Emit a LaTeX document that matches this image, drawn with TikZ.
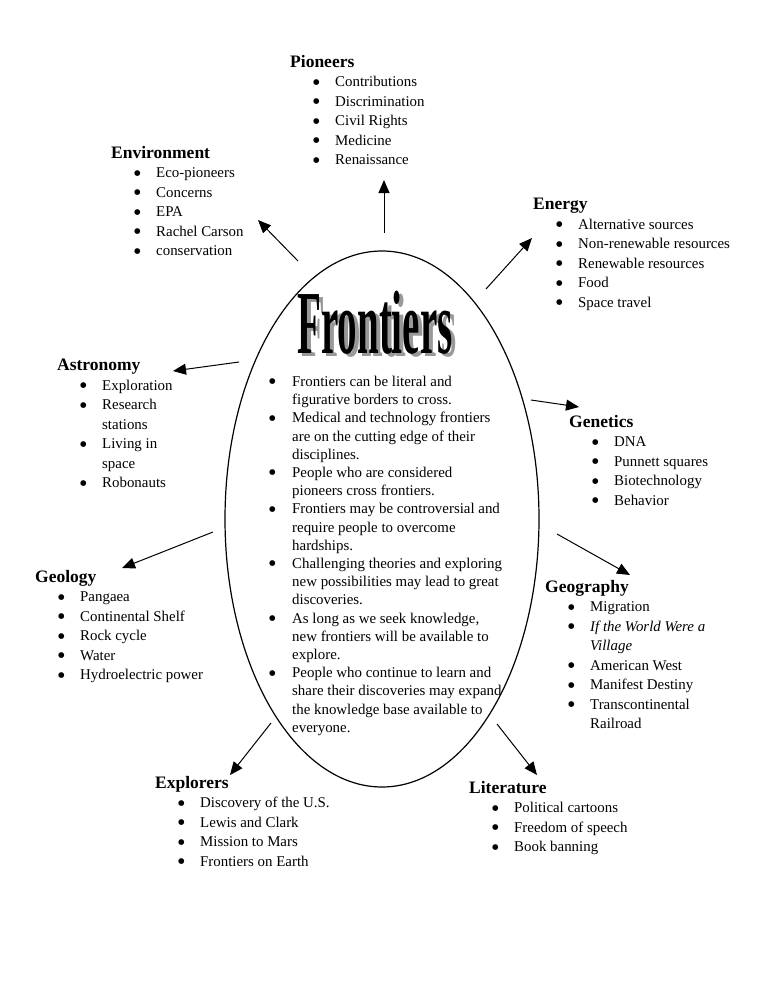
\documentclass[tikz,border=0pt]{standalone}
\usepackage{fontspec}
\setmainfont{Liberation Serif}
\newfontfamily\dotfont{DejaVu Sans}
\usetikzlibrary{shapes.geometric, arrows.meta, positioning}

% list helpers
\newcommand{\hd}[1]{{\fontsize{17.5}{19.5}\selectfont\bfseries #1}}
\newcommand{\dotmark}{\raisebox{2.6pt}{\dotfont\fontsize{7.5}{7.5}\selectfont ●}}
\newcommand{\itm}[1]{\hspace*{23pt}\makebox[22pt][l]{\dotmark}#1}
\newcommand{\itmc}[1]{\hspace*{45pt}#1}
\newcommand{\pnt}[1]{\makebox[23pt][l]{\dotmark}#1}
\newcommand{\pntc}[1]{\hspace*{23pt}#1}
\newcommand{\ttltext}{\scalebox{0.65}[1.5]{\fontsize{60}{60}\selectfont\bfseries Frontiers}}

\begin{document}
\begin{tikzpicture}[x=1pt, y=-1pt,
    group/.style={anchor=north west, inner sep=0pt, align=left, font=\fontsize{14.9}{19.5}\selectfont},
    arr/.style={-{Triangle[length=13pt,width=11pt]}, line width=1pt}]
    \useasboundingbox (0,0) rectangle (768,994);

    % centre
    \node[draw, ellipse, line width=1.2pt, minimum width=314pt, minimum height=536pt, inner sep=0pt] (core) at (382,519) {};
    \node[inner sep=0pt] (title) at (375,324)
        {\makebox[0pt][l]{\hspace{4pt}\raisebox{-3pt}{\color{black!40}\ttltext}}\ttltext};
    \node[group, font=\fontsize{14.9}{18.2}\selectfont] (ideas) at (269,376) {%
        \pnt{Frontiers can be literal and}\\ \pntc{figurative borders to cross.}\\
        \pnt{Medical and technology frontiers}\\ \pntc{are on the cutting edge of their}\\ \pntc{disciplines.}\\
        \pnt{People who are considered}\\ \pntc{pioneers cross frontiers.}\\
        \pnt{Frontiers may be controversial and}\\ \pntc{require people to overcome}\\ \pntc{hardships.}\\
        \pnt{Challenging theories and exploring}\\ \pntc{new possibilities may lead to great}\\ \pntc{discoveries.}\\
        \pnt{As long as we seek knowledge,}\\ \pntc{new frontiers will be available to}\\ \pntc{explore.}\\
        \pnt{People who continue to learn and}\\ \pntc{share their discoveries may expand}\\ \pntc{the knowledge base available to}\\ \pntc{everyone.}};

    % topics
    \node[group] (pioneers) at (290,55) {\hd{Pioneers}\\ \itm{Contributions}\\ \itm{Discrimination}\\ \itm{Civil Rights}\\ \itm{Medicine}\\ \itm{Renaissance}};
    \node[group] (environment) at (111,146) {\hd{Environment}\\ \itm{Eco-pioneers}\\ \itm{Concerns}\\ \itm{EPA}\\ \itm{Rachel Carson}\\ \itm{conservation}};
    \node[group] (energy) at (533,198) {\hd{Energy}\\ \itm{Alternative sources}\\ \itm{Non-renewable resources}\\ \itm{Renewable resources}\\ \itm{Food}\\ \itm{Space travel}};
    \node[group] (astronomy) at (57,359) {\hd{Astronomy}\\ \itm{Exploration}\\ \itm{Research}\\ \itmc{stations}\\ \itm{Living in}\\ \itmc{space}\\ \itm{Robonauts}};
    \node[group] (genetics) at (569,415) {\hd{Genetics}\\ \itm{DNA}\\ \itm{Punnett squares}\\ \itm{Biotechnology}\\ \itm{Behavior}};
    \node[group] (geology) at (35,570) {\hd{Geology}\\ \itm{Pangaea}\\ \itm{Continental Shelf}\\ \itm{Rock cycle}\\ \itm{Water}\\ \itm{Hydroelectric power}};
    \node[group] (geography) at (545,580) {\hd{Geography}\\ \itm{Migration}\\ \itm{\textit{If the World Were a}}\\ \itmc{\textit{Village}}\\ \itm{American West}\\ \itm{Manifest Destiny}\\ \itm{Transcontinental}\\ \itmc{Railroad}};
    \node[group] (explorers) at (155,776) {\hd{Explorers}\\ \itm{Discovery of the U.S.}\\ \itm{Lewis and Clark}\\ \itm{Mission to Mars}\\ \itm{Frontiers on Earth}};
    \node[group] (literature) at (469,781) {\hd{Literature}\\ \itm{Political cartoons}\\ \itm{Freedom of speech}\\ \itm{Book banning}};

    % arrow ends
    \coordinate (pio-a) at (384,233); \coordinate (pio-b) at (384,180);
    \coordinate (env-a) at (298,261); \coordinate (env-b) at (258,220);
    \coordinate (ene-a) at (486,289); \coordinate (ene-b) at (532,238);
    \coordinate (ast-a) at (239,362); \coordinate (ast-b) at (173,371);
    \coordinate (gen-a) at (531,400); \coordinate (gen-b) at (579,407);
    \coordinate (geol-a) at (213,532); \coordinate (geol-b) at (122,568);
    \coordinate (geog-a) at (557,534); \coordinate (geog-b) at (630,575);
    \coordinate (exp-a) at (271,723); \coordinate (exp-b) at (230,775);
    \coordinate (lit-a) at (497,724); \coordinate (lit-b) at (537,775);

    \draw[arr] (pio-a) -- (pio-b);
    \draw[arr] (env-a) -- (env-b);
    \draw[arr] (ene-a) -- (ene-b);
    \draw[arr] (ast-a) -- (ast-b);
    \draw[arr] (gen-a) -- (gen-b);
    \draw[arr] (geol-a) -- (geol-b);
    \draw[arr] (geog-a) -- (geog-b);
    \draw[arr] (exp-a) -- (exp-b);
    \draw[arr] (lit-a) -- (lit-b);
\end{tikzpicture}
\end{document}
